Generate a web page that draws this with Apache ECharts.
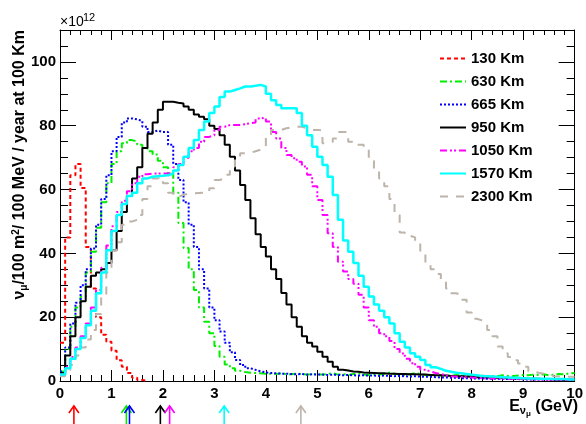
<!DOCTYPE html>
<html>
<head>
<meta charset="utf-8">
<script src="https://cdn.jsdelivr.net/npm/echarts@6/dist/echarts.min.js"></script>
<style>
  html, body { margin: 0; padding: 0; background: #fff; }
  #chart { width: 586px; height: 424px; }
</style>
</head>
<body>
<div id="chart"></div>
<script>
// histogram bins: 0.1 GeV wide, starting at 0
const binWidth = 0.1;

const names = ['130 Km', '630 Km', '665 Km', '950 Km', '1050 Km', '1570 Km', '2300 Km'];
const colors = ['#ff0000', '#00ee00', '#0000ff', '#000000', '#ff00ff', '#00ffff', '#bdb4aa'];

const km130 = [12, 45, 64.5, 68, 60.5, 42, 29, 20, 14.5, 12.3, 9.5, 6.5, 4.5, 2.5, 1, 0.3, 0];

const km630 = [
  3, 10, 17, 23, 26.5, 34, 40.5, 48, 56, 62,
  68, 72, 74.5, 75.5, 75, 74, 73, 72, 71, 69,
  67, 65, 59, 49.5, 41.7, 35, 28.5, 23, 18.6, 15,
  11, 7.6, 5.2, 4, 3.2, 2.8, 2.6, 2.5, 2.4, 2.3,
  2.3, 2.2, 2.4, 2.2, 2.1, 2.3, 2.2, 2, 2.2, 2.1,
  2, 2.2, 2.4, 2, 2.1, 1.9, 2.2, 2.4, 2, 1.9,
  2.1, 2, 2.2, 2.6, 2.3, 2, 1.9, 2.1, 2.5, 2.2,
  1.9, 1.8, 2, 1.7, 1.8, 1.6, 1.9, 1.7, 1.5, 1.6,
  1.5, 1.7, 1.4, 1.6, 1.5, 1.8, 1.6, 1.5, 1.7, 1.9,
  1.8, 2, 1.9, 2.1, 1.8, 2, 2.2, 2.1, 2.4, 2.5
];

const km665 = [
  3, 10.5, 18, 24.5, 30, 35, 41.5, 49, 57, 64.5,
  72, 76.5, 81, 82.3, 82, 81.5, 79.7, 78, 78.5, 78,
  78, 74, 68, 63, 56, 49, 42, 35, 29, 23,
  19, 15.5, 12, 9, 6.6, 5, 4, 3.5, 3, 2.7,
  2.5, 2.4, 2.3, 2.3, 2.2, 2.1, 2.2, 2, 2.1, 2,
  2, 1.9, 2, 1.9, 1.8, 1.9, 1.8, 1.7, 1.8, 1.7,
  1.7, 1.6, 1.7, 1.6, 1.5, 1.6, 1.5, 1.4, 1.5, 1.4,
  1.3, 1.3, 1.2, 1.1, 1.1, 1, 1, 0.9, 0.9, 0.8,
  0.8, 0.8, 0.7, 0.7, 0.7, 0.6, 0.6, 0.6, 0.6, 0.5,
  0.5, 0.5, 0.5, 0.5, 0.4, 0.4, 0.4, 0.4, 0.4, 0.4
];

const km950 = [
  2.5, 8, 14, 20, 25, 29.5, 33, 34, 35, 37,
  41, 47, 53, 58, 63.5, 67, 73, 77.5, 81, 85,
  87.5, 87.5, 87.2, 87, 86, 85, 83.5, 82.8, 82, 80,
  79, 77, 74, 70.3, 66, 61.4, 56.7, 51, 46, 42,
  39, 35, 32, 27.6, 24, 20, 17, 14, 12, 10.8,
  9.2, 7.6, 6, 4.5, 3.5, 3.3, 3, 2.9, 2.7, 2.6,
  2.5, 2.4, 2.4, 2.3, 2.3, 2.2, 2.2, 2.1, 2.1, 2,
  2, 1.9, 1.8, 1.8, 1.7, 1.6, 1.5, 1.5, 1.4, 1.3,
  1.2, 1.2, 1.1, 1.1, 1, 1, 0.9, 0.9, 0.8, 0.8,
  0.7, 0.7, 0.7, 0.6, 0.6, 0.5, 0.5, 0.5, 0.4, 0.4
];

const km1050 = [
  2, 4.5, 7.5, 10.5, 14, 18, 23, 28.5, 35.5, 42.5,
  48.5, 53, 56.5, 59.5, 62, 64, 64.8, 65, 65, 65,
  65, 65.5, 67, 68, 70, 72, 73, 75, 76.5, 77,
  78.7, 79.7, 80.2, 80.2, 80.2, 80.5, 80.8, 81, 82.3, 82.5,
  81.3, 78, 76, 73, 70.8, 69.8, 68.7, 67.2, 64.6, 61,
  56.7, 52, 46.3, 42, 37.4, 34.3, 32, 30.5, 27, 23,
  19, 17, 15, 14, 12.5, 10, 8.6, 7, 5.6, 4.5,
  3.5, 3, 2.5, 2.2, 1.8, 1.5, 1.4, 1.3, 1.2, 1.1,
  1, 0.9, 0.9, 0.8, 0.8, 0.7, 0.7, 0.7, 0.6, 0.6,
  0.6, 0.5, 0.5, 0.5, 0.5, 0.4, 0.4, 0.4, 0.4, 0.4
];

const km1570 = [
  2, 4, 7, 10, 13.5, 17.5, 22, 27.5, 34, 41,
  47, 52, 55.5, 58, 59, 62, 63.5, 64, 64.2, 64.3,
  64.5, 65, 66, 67.7, 70.3, 73, 75.5, 78.7, 81.3, 84,
  86, 89, 90.7, 91.2, 91.7, 92.3, 92.3, 92.5, 92.8, 92.3,
  90, 88, 86.5, 85.5, 85.5, 85.5, 84, 80, 77, 73.4,
  70.3, 67.7, 64, 58.3, 50.5, 44, 40.5, 37, 33, 29.5,
  26.5, 24, 22, 20, 18, 15, 12.3, 10.5, 8.7, 7.6,
  6.6, 5, 4.3, 3.8, 3.2, 2.9, 2.6, 2.4, 2.2, 2,
  1.8, 1.6, 1.5, 1.4, 1.3, 1.2, 1.1, 1, 1, 0.9,
  0.8, 0.8, 0.7, 0.7, 0.7, 0.6, 0.6, 0.6, 0.5, 0.5
];

const km2300 = [
  1.5, 3, 5, 8, 10.5, 13, 16, 21, 26.5, 34,
  41, 43.5, 49, 50, 50.5, 52, 57, 61, 63.5, 64,
  62, 59, 57.8, 58.3, 58.8, 58.8, 58.9, 59, 59, 60.4,
  63, 63.5, 64.6, 67.2, 69.8, 71.4, 71.5, 72, 72.5, 73,
  77, 78.7, 78.7, 79.2, 79.5, 79.7, 79.7, 79.2, 78.7, 78.7,
  78.5, 74.5, 75, 76, 78, 78, 75, 74, 74, 72.5,
  69, 66, 63.5, 61, 57, 52, 46.5, 45.5, 45, 44,
  40, 37, 35, 33.5, 31.5, 29, 27.5, 27, 25.5, 21.5,
  19.5, 19, 18.5, 16, 14, 10.8, 8.7, 7.5, 6.5, 5.5,
  4.5, 3, 2.6, 2.3, 2, 1.5, 1.4, 1.3, 1.3, 1.3
];

// arrows under the axis (GeV)
const arrowEnergies = [0.27, 1.29, 1.35, 1.95, 2.13, 3.19, 4.68];

const allHists = [km130, km630, km665, km950, km1050, km1570, km2300];
const dashes = [[4, 3], [7, 3, 2, 3], [2, 2], 'solid', [7, 3, 2, 2, 2, 3], 'solid', [8, 8]];
const widths = [2, 2, 2, 2, 2, 2.5, 2];

function toSteps(hist) {
  const pts = hist.map((v, i) => [i * binWidth, v]);
  pts.push([hist.length * binWidth, hist[hist.length - 1]]);
  return pts;
}

const font = 'Liberation Sans, Arial, sans-serif';
const chart = echarts.init(document.getElementById('chart'));

const axisCommon = {
  axisLine: { onZero: false, lineStyle: { color: '#000', width: 1 } },
  splitLine: { show: false },
};

chart.setOption({
  animation: false,
  backgroundColor: '#fff',
  grid: { left: 60, right: 7, top: 30, bottom: 43 },
  legend: {
    orient: 'vertical',
    left: 434,
    top: 46,
    itemWidth: 26,
    itemHeight: 14,
    itemGap: 8,
    itemStyle: { opacity: 0 },
    textStyle: { fontFamily: font, fontWeight: 'bold', fontSize: 15, color: '#000' },
    data: names,
  },
  xAxis: [
    Object.assign({
      type: 'value', min: 0, max: 10, interval: 1, position: 'bottom',
      axisTick: { inside: true, length: 11, lineStyle: { color: '#000' } },
      minorTick: { show: true, splitNumber: 5, length: 6, lineStyle: { color: '#000' } },
      axisLabel: { color: '#000', fontFamily: font, fontWeight: 'bold', fontSize: 15, margin: 5 },
    }, axisCommon),
    Object.assign({
      type: 'value', min: 0, max: 10, interval: 1, position: 'top',
      axisTick: { inside: true, length: 10, lineStyle: { color: '#000' } },
      minorTick: { show: true, splitNumber: 5, length: 5, lineStyle: { color: '#000' } },
      axisLabel: { show: false },
    }, axisCommon),
  ],
  yAxis: [
    Object.assign({
      type: 'value', min: 0, max: 110, interval: 20, position: 'left',
      axisTick: { inside: true, length: 16, lineStyle: { color: '#000' } },
      minorTick: { show: true, splitNumber: 4, length: 8, lineStyle: { color: '#000' } },
      axisLabel: { color: '#000', fontFamily: font, fontWeight: 'bold', fontSize: 15, margin: 4, showMaxLabel: false },
    }, axisCommon),
    Object.assign({
      type: 'value', min: 0, max: 110, interval: 20, position: 'right',
      axisTick: { inside: true, length: 16, lineStyle: { color: '#000' } },
      minorTick: { show: true, splitNumber: 4, length: 8, lineStyle: { color: '#000' } },
      axisLabel: { show: false },
    }, axisCommon),
  ],
  series: allHists.map((h, k) => ({
    name: names[k],
    type: 'line',
    step: 'end',
    symbol: 'none',
    data: toSteps(h),
    lineStyle: { color: colors[k], width: widths[k], type: dashes[k] },
    itemStyle: { color: colors[k] },
    z: 3 + (k === 5 ? 1 : 0),
  })),
});

// titles and arrows
const arrowTip = 406, arrowBase = 424;
const arrows = arrowEnergies.map((e, k) => {
  const x = chart.convertToPixel({ xAxisIndex: 0 }, e);
  return {
    type: 'group',
    children: [
      { type: 'line', shape: { x1: x, y1: arrowBase, x2: x, y2: arrowTip },
        style: { stroke: colors[k], lineWidth: 1.6 } },
      { type: 'polyline', shape: { points: [[x - 5, arrowTip + 7], [x, arrowTip], [x + 5, arrowTip + 7]] },
        style: { stroke: colors[k], fill: null, lineWidth: 1.6 } },
    ],
  };
});

chart.setOption({
  graphic: [
    { type: 'text', x: 60, y: 29,
      style: { text: '\u00d710', font: '14px ' + font, fill: '#000', textVerticalAlign: 'bottom' } },
    { type: 'text', x: 83, y: 23,
      style: { text: '12', font: '11px ' + font, fill: '#000', textVerticalAlign: 'bottom' } },
    { type: 'text', x: 20, y: 30, rotation: Math.PI / 2,
      style: {
        text: '\u03bd{sub|\u03bc}/100 m{sup|2}/ 100 MeV / year at 100 Km',
        font: 'bold 16px ' + font, fill: '#000',
        textAlign: 'right', textVerticalAlign: 'middle',
        rich: {
          sub: { fontSize: 10, fontWeight: 'bold', fontFamily: font, verticalAlign: 'bottom', padding: [8, 0, 0, 0] },
          sup: { fontSize: 10, fontWeight: 'bold', fontFamily: font, verticalAlign: 'top', padding: [0, 0, 8, 0] },
        },
      } },
    { type: 'text', x: 578, y: 407,
      style: {
        text: 'E{sub|\u03bd}{sub2|\u03bc} (GeV)',
        font: 'bold 16px ' + font, fill: '#000',
        textAlign: 'right', textVerticalAlign: 'middle',
        rich: {
          sub: { fontSize: 11, fontWeight: 'bold', fontFamily: font, padding: [8, 0, 0, 0] },
          sub2: { fontSize: 8, fontWeight: 'bold', fontFamily: font, padding: [13, 0, 0, 0] },
        },
      } },
  ].concat(arrows),
});
</script>
</body>
</html>
